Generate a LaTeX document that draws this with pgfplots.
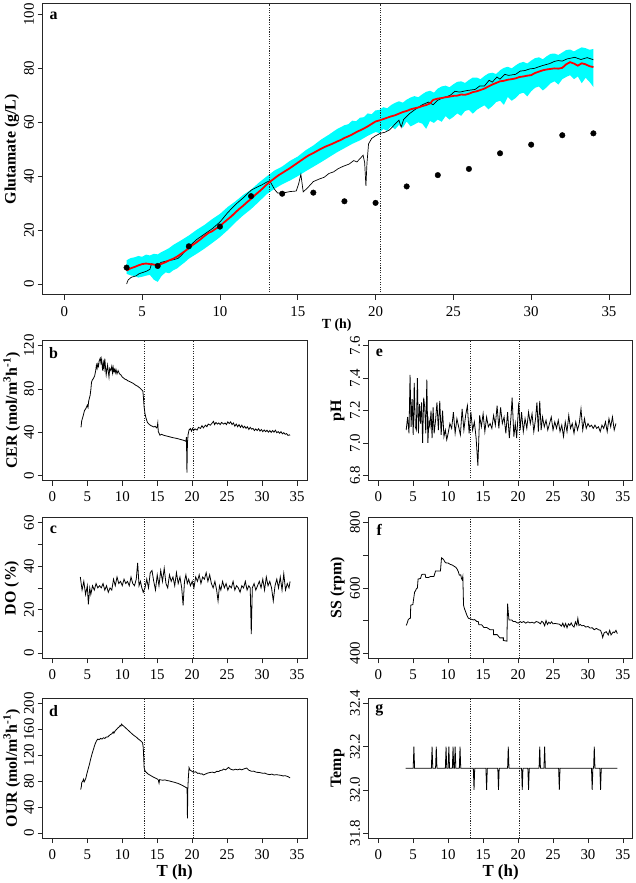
\documentclass[border=0pt]{standalone}
\usepackage{fontspec}
\setmainfont{Liberation Serif}
\usepackage{pgfplots}
\pgfplotsset{compat=1.18}
\usepgfplotslibrary{fillbetween}
\definecolor{rcyan}{RGB}{0,255,255}
\definecolor{rred}{RGB}{255,0,0}
\pgfplotsset{
  rstyle/.style={
    scale only axis,
    axis line style={line width=0.7pt, black!85},
    tick style={line width=0.6pt, black!85},
    tick align=outside,
    major tick length=5bp,
    xtick pos=left, ytick pos=left,
    xmin=-1.4, xmax=36.4, xtick={0,5,...,35},
    /pgf/number format/assume math mode=true,
    tick label style={font=\fontsize{15bp}{15bp}\selectfont},
    yticklabel style={rotate=90, anchor=south},
    xticklabel style={yshift=-3bp},
    label style={font=\bfseries\fontsize{16bp}{16bp}\selectfont},
    xlabel style={at={(axis description cs:0.5,0)}, yshift=-32bp, anchor=center},
    clip=true,
  },
  small/.style={rstyle, width=266bp, height=141bp,
    ylabel style={at={(axis description cs:-0.1165,0.5)}, anchor=center}},
  vline/.style={black!85, line width=0.6pt, dash pattern=on 1.1bp off 1.3bp, forget plot},
  dline/.style={black, line width=0.8bp},
}
\newcommand{\plab}[1]{\node[font=\bfseries\fontsize{16bp}{16bp}\selectfont] at (axis description cs:0,1) [xshift=11bp, yshift=-12.5bp] {#1};}
\begin{document}
\begin{tikzpicture}
\path (0,0) rectangle (638bp,-883bp);
% ---------------- panel a
\begin{axis}[rstyle, at={(41bp,-2bp)}, anchor=north west, width=592bp, height=293bp,
  ymin=-4, ymax=104, ytick={0,20,...,100},
  xlabel={T (h)}, ylabel={Glutamate (g/L)},
  xlabel style={font=\bfseries\fontsize{14bp}{14bp}\selectfont, yshift=1bp},
  ylabel style={at={(axis description cs:-0.0524,0.5)}, anchor=center}]
\addplot[draw=none, name path=up] coordinates {(4.0,8.8) (4.25,9.6) (4.5,9.9) (4.75,10.4) (5.0,10.1) (5.25,10.9) (5.5,10.6) (5.75,11.2) (6.0,11.0) (6.25,11.9) (6.5,12.6) (6.75,13.4) (7.0,14.5) (7.5,16.2) (8.0,18.0) (8.5,20.1) (9.0,21.9) (9.5,24.1) (10.0,26.0) (10.5,28.6) (11.0,30.7) (11.5,33.1) (12.0,35.0) (12.5,37.6) (13.0,39.9) (13.5,42.1) (14.0,43.6) (14.5,45.7) (15.0,47.3) (15.5,49.6) (16.0,51.4) (16.5,53.6) (17.0,55.4) (17.5,57.4) (18.0,58.9) (18.25,59.3) (18.5,60.6) (18.75,60.4) (19.0,61.7) (19.25,61.9) (19.5,63.3) (19.75,63.0) (20.0,64.4) (20.25,64.6) (20.5,65.6) (20.75,65.2) (21.0,66.4) (21.25,67.2) (21.5,67.8) (21.75,67.3) (22.0,68.4) (22.25,69.2) (22.5,69.7) (22.75,69.3) (23.0,70.4) (23.25,71.3) (23.5,71.7) (23.75,71.0) (24.0,72.5) (24.25,73.3) (24.5,73.6) (24.75,73.0) (25.0,74.1) (25.25,75.0) (25.5,75.2) (25.75,74.6) (26.0,75.7) (26.25,76.6) (26.5,76.6) (26.75,76.0) (27.0,77.2) (27.25,78.1) (27.5,78.4) (27.75,77.9) (28.0,79.3) (28.25,80.2) (28.5,80.6) (28.75,80.0) (29.0,81.1) (29.25,82.0) (29.5,82.4) (29.75,81.8) (30.0,82.9) (30.25,83.8) (30.5,84.1) (30.75,83.4) (31.0,84.5) (31.25,85.4) (31.5,85.5) (31.75,85.0) (32.0,85.9) (32.25,86.8) (32.5,87.0) (32.75,86.3) (33.0,87.1) (33.25,87.8) (33.5,87.5) (33.75,86.9) (34.0,87.2)};
\addplot[draw=none, name path=lo] coordinates {(4.0,3.8) (4.25,3.2) (4.5,3.0) (4.75,2.4) (5.0,2.7) (5.25,3.1) (5.5,3.4) (5.75,1.6) (6.0,0.8) (6.25,3.0) (6.5,4.3) (6.75,4.0) (7.0,5.1) (7.25,5.8) (7.5,7.0) (7.75,8.1) (8.0,9.4) (8.5,11.2) (9.0,13.1) (9.5,15.2) (10.0,17.4) (10.5,20.0) (11.0,22.9) (11.5,25.5) (12.0,27.8) (12.5,30.5) (13.0,33.3) (13.5,35.3) (14.0,37.0) (14.5,38.4) (15.0,40.0) (15.5,41.8) (16.0,43.5) (16.5,45.2) (17.0,47.0) (17.5,48.8) (18.0,50.4) (18.5,52.0) (19.0,53.3) (19.5,55.0) (20.0,56.4) (20.25,56.0) (20.5,57.5) (20.75,56.8) (21.0,58.6) (21.25,57.4) (21.5,59.0) (21.75,58.0) (22.0,60.3) (22.25,58.5) (22.5,59.2) (22.75,60.0) (23.0,59.5) (23.25,57.6) (23.5,60.5) (23.75,59.8) (24.0,61.0) (24.25,60.2) (24.5,62.3) (24.75,61.0) (25.0,62.0) (25.25,63.3) (25.5,62.4) (25.75,64.2) (26.0,64.6) (26.25,63.2) (26.5,64.6) (26.75,65.5) (27.0,66.3) (27.25,64.8) (27.5,66.0) (27.75,67.5) (28.0,68.0) (28.25,66.5) (28.5,69.4) (28.75,68.0) (29.0,69.0) (29.25,70.5) (29.5,71.0) (29.75,69.6) (30.0,71.5) (30.25,72.8) (30.5,73.3) (30.75,71.8) (31.0,73.0) (31.25,74.5) (31.5,75.2) (31.75,74.0) (32.0,76.0) (32.25,76.8) (32.5,77.5) (32.75,76.0) (33.0,77.0) (33.25,74.5) (33.5,76.5) (33.75,75.0) (34.0,73.1)};
\addplot[fill=rcyan, draw=none] fill between[of=up and lo];
\addplot[vline] coordinates {(13.2,-4) (13.2,104)};
\addplot[vline] coordinates {(20.3,-4) (20.3,104)};
\addplot[black, line width=0.7bp] coordinates {(4.0,0.0) (4.1,1.5) (4.3,2.5) (4.6,3.0) (4.8,3.8) (5.0,4.2) (5.3,4.8) (5.5,5.5) (5.6,7.5) (5.8,7.2) (6.0,6.8) (6.2,8.0) (6.4,8.3) (6.7,8.7) (7.0,9.0) (7.3,9.5) (7.5,10.5) (7.8,12.5) (8.0,13.8) (8.5,16.5) (9.0,18.5) (9.5,20.5) (10.0,23.0) (10.5,26.5) (11.0,29.5) (11.5,32.0) (12.0,34.8) (12.4,36.0) (12.7,36.8) (13.0,37.8) (13.2,38.3) (13.5,35.2) (13.7,33.8) (14.0,33.7) (14.5,34.3) (14.9,34.5) (15.05,37.0) (15.2,40.7) (15.35,34.2) (15.6,35.5) (16.0,38.0) (16.4,39.0) (16.7,39.6) (17.0,41.0) (17.3,41.6) (17.6,42.8) (17.93,43.7) (18.3,44.5) (18.6,45.8) (18.8,45.3) (19.0,46.5) (19.2,47.8) (19.3,45.0) (19.38,36.4) (19.45,45.0) (19.55,52.0) (19.75,54.0) (20.0,55.0) (20.3,55.9) (20.6,56.3) (20.9,57.2) (21.2,59.0) (21.5,60.8) (21.65,58.2) (21.8,61.0) (22.2,63.3) (22.6,65.0) (23.0,66.5) (23.4,67.5) (23.7,66.5) (24.0,68.2) (24.3,69.0) (24.8,70.0) (25.1,71.5) (25.4,71.2) (25.9,71.8) (26.4,72.2) (26.7,73.5) (27.0,73.5) (27.3,75.6) (27.5,74.9) (27.8,76.8) (28.0,76.0) (28.3,77.8) (28.55,77.4) (29.0,77.8) (29.3,79.0) (29.6,79.2) (29.9,79.8) (30.2,80.0) (30.7,81.0) (31.2,81.8) (31.5,82.6) (31.74,82.9) (32.0,82.7) (32.3,83.5) (32.8,84.1) (33.2,83.3) (33.6,84.0) (34.0,83.2)};
\addplot[rred, line width=1.8bp] coordinates {(4.0,5.0) (4.25,5.8) (4.5,6.3) (4.75,6.9) (5.0,7.4) (5.25,7.6) (5.5,7.4) (5.75,7.2) (6.0,7.1) (6.25,7.5) (6.5,8.1) (6.75,8.8) (7.0,9.4) (7.25,10.2) (7.5,11.2) (7.75,12.2) (8.0,13.3) (8.25,14.5) (8.5,15.5) (8.75,16.6) (9.0,17.8) (9.25,18.9) (9.5,19.6) (9.75,20.6) (10.0,21.5) (10.25,22.8) (10.5,24.0) (10.75,25.2) (11.0,26.6) (11.25,27.9) (11.5,29.1) (11.75,30.4) (12.0,31.6) (12.25,33.0) (12.5,34.2) (12.75,35.5) (13.0,36.9) (13.25,38.1) (13.5,39.2) (13.75,40.3) (14.0,41.2) (14.25,42.1) (14.5,43.0) (14.75,44.0) (15.0,45.0) (15.25,46.0) (15.5,47.0) (15.75,47.9) (16.0,48.6) (16.25,49.4) (16.5,50.2) (16.75,50.9) (17.0,51.5) (17.25,52.1) (17.5,52.8) (17.75,53.4) (18.0,54.2) (18.25,54.8) (18.5,55.5) (18.75,56.3) (19.0,57.0) (19.25,57.7) (19.5,58.5) (19.75,59.4) (20.0,60.3) (20.25,60.7) (20.5,61.2) (20.75,61.7) (21.0,62.2) (21.25,62.6) (21.5,63.2) (21.75,63.8) (22.0,64.2) (22.25,64.8) (22.5,65.2) (22.75,65.5) (23.0,66.0) (23.25,66.4) (23.5,67.0) (23.7,68.3) (24.0,68.8) (24.25,69.0) (24.5,69.3) (24.75,69.5) (25.0,69.8) (25.25,69.9) (25.5,70.3) (25.75,70.2) (26.0,70.6) (26.25,71.2) (26.5,71.5) (26.75,72.0) (27.0,72.5) (27.25,73.3) (27.5,74.0) (27.75,74.6) (28.0,75.2) (28.25,75.4) (28.5,75.8) (28.75,76.0) (29.0,76.3) (29.25,76.8) (29.5,77.0) (29.75,77.3) (30.0,77.5) (30.25,78.3) (30.5,78.8) (30.75,79.3) (31.0,79.6) (31.25,79.8) (31.5,80.0) (31.75,79.9) (32.0,80.2) (32.25,81.5) (32.5,82.3) (32.75,81.8) (33.0,81.0) (33.25,81.9) (33.5,81.5) (33.75,80.8) (34.0,80.5)};
\addplot[only marks, mark=*, mark size=2.8bp, black] coordinates {(4.0,6.1) (6.0,6.7) (8.0,14.0) (10.0,21.3) (12.0,32.6) (14.0,33.5) (16.0,33.9) (18.0,30.7) (20.0,30.1) (22.0,36.2) (24.0,40.4) (26.0,42.7) (28.0,48.5) (30.0,51.7) (32.0,55.2) (34.0,55.9)};
\plab{a}
\end{axis}
% ---------------- panel b
\begin{axis}[small, at={(41bp,-341bp)}, anchor=north west,
  ymin=-4.8, ymax=124.8, ytick={0,40,80,120},
  ylabel={CER (mol/m\textsuperscript{3}h\textsuperscript{-1})}]
\addplot[vline] coordinates {(13.1,-4.8) (13.1,124.8)};
\addplot[vline] coordinates {(20.2,-4.8) (20.2,124.8)};
\addplot[dline] coordinates {(4.1,44.5) (4.2,50.5) (4.4,55) (4.6,60) (4.8,62) (5.0,65) (5.1,63) (5.2,69) (5.4,74) (5.5,79) (5.6,86) (5.7,88) (5.9,90) (6.05,92) (6.2,97) (6.3,102) (6.4,99) (6.5,103) (6.6,101) (6.7,106) (6.85,108.5) (6.95,104) (7.05,107.5) (7.15,100) (7.2,97) (7.3,104) (7.4,99) (7.5,108) (7.6,100) (7.7,93) (7.8,98) (7.9,102) (8.0,96) (8.1,91) (8.2,99) (8.35,97) (8.5,101) (8.6,95) (8.7,100) (8.8,96) (8.9,98) (9.0,95) (9.1,98) (9.25,94) (9.4,97) (9.6,94) (9.8,93) (10.0,91) (10.2,90) (10.4,89) (10.6,88.5) (10.8,87.5) (11.0,87) (11.3,86) (11.6,85) (11.9,83.5) (12.2,82.5) (12.5,81) (12.8,79) (12.95,78) (13.04,71) (13.13,63) (13.25,57) (13.4,53) (13.6,49) (13.8,47.5) (14.1,46) (14.3,45.5) (14.5,44.8) (14.7,45.5) (14.9,44) (15.0,45) (15.08,48.5) (15.15,40.5) (15.3,38.5) (15.4,37.2) (15.6,38) (15.8,37.5) (16.0,37) (16.3,36.5) (16.6,36) (16.9,35.5) (17.2,35) (17.5,34.6) (17.86,34.1) (18.2,33.5) (18.6,32.8) (18.9,32.2) (19.1,31.5) (19.18,35.5) (19.25,2.5) (19.32,30) (19.42,38) (19.55,42) (19.74,43.3) (19.9,41) (20.05,43.5) (20.2,41.5) (20.4,43) (20.7,42) (20.9,44.5) (21.2,43.5) (21.4,46) (21.6,44) (21.9,46.5) (22.1,45) (22.3,47.5) (22.6,46.5) (22.8,48) (23.05,50) (23.2,47) (23.4,49) (23.6,47.5) (23.8,48.5) (24.0,47) (24.2,49) (24.5,47.5) (24.7,48.5) (24.9,47) (25.1,49.5) (25.3,48) (25.5,49.5) (25.7,47) (25.9,48.5) (26.1,45.5) (26.3,47.5) (26.5,45) (26.7,47) (26.9,44.5) (27.1,46.5) (27.3,44) (27.5,45.5) (27.7,43.5) (27.9,45) (28.1,42.5) (28.3,44.5) (28.5,42.8) (28.7,43.5) (28.9,41.5) (29.1,43) (29.3,41.5) (29.5,43.2) (29.7,41) (29.9,42.5) (30.1,40.5) (30.3,42) (30.5,40.5) (30.7,41.8) (30.9,40) (31.1,41.5) (31.3,39.8) (31.5,41.5) (31.7,40) (31.9,41.8) (32.1,39.5) (32.3,40.5) (32.5,39) (32.7,40.5) (32.9,38.5) (33.1,39.5) (33.3,38) (33.5,38.7) (33.7,37) (33.9,37.5) (34.0,37)};
\plab{b}
\end{axis}
% ---------------- panel c
\begin{axis}[small, at={(41bp,-519bp)}, anchor=north west, height=142bp,
  ymin=-2.4, ymax=62.4, ytick={0,10,...,60}, yticklabels={0,,20,,40,,60},
  ylabel={DO (\%)}]
\addplot[vline] coordinates {(13.1,-2.4) (13.1,62.4)};
\addplot[vline] coordinates {(20.2,-2.4) (20.2,62.4)};
\addplot[dline] coordinates {(4.00,35) (4.25,29) (4.50,33) (4.75,27) (5.00,31) (5.15,22.5) (5.35,30) (5.50,27) (5.75,31) (6.00,29) (6.25,32) (6.50,30) (6.75,31) (7.00,30) (7.25,32) (7.50,29) (7.75,31) (8.00,28) (8.25,30) (8.50,29) (8.75,34) (9.00,31) (9.25,35) (9.50,32) (9.75,33) (10.00,31) (10.25,34) (10.50,32) (10.75,33) (11.00,31) (11.25,35) (11.50,32) (11.75,31) (12.00,34) (12.20,41.5) (12.40,31) (12.60,33) (12.80,30) (13.00,28) (13.25,30) (13.50,34) (13.75,30) (14.00,37) (14.25,38) (14.50,33) (14.75,29) (15.00,36) (15.25,31) (15.50,38) (15.75,33) (16.00,39) (16.25,32) (16.50,30) (16.75,36) (17.00,33) (17.25,35) (17.50,31) (17.75,37) (18.00,32) (18.25,35) (18.50,30) (18.70,22) (18.90,33) (19.10,36) (19.30,32) (19.50,34) (19.75,31) (20.00,33) (20.25,30) (20.50,35) (20.75,33) (21.00,36) (21.25,32) (21.50,35) (21.75,34) (22.00,37) (22.25,33) (22.50,36) (22.75,32) (23.00,30) (23.25,33) (23.50,29) (23.70,24) (23.90,31) (24.10,29) (24.35,33) (24.60,30) (24.85,32) (25.10,29) (25.35,31) (25.60,30) (25.85,33) (26.10,29) (26.35,31) (26.60,30) (26.85,28) (27.10,31) (27.35,30) (27.60,33) (27.85,29) (28.10,31) (28.30,30) (28.45,8.8) (28.60,30) (28.85,32) (29.10,29) (29.35,31) (29.60,33) (29.85,30) (30.10,34) (30.35,29) (30.60,35) (30.85,31) (31.10,33) (31.35,30) (31.60,24) (31.85,31) (32.10,34) (32.35,30) (32.60,35) (32.85,29) (33.10,36.5) (33.35,29) (33.60,32) (33.85,30) (34.00,33)};
\plab{c}
\end{axis}
% ---------------- panel d
\begin{axis}[small, at={(41bp,-701bp)}, anchor=north west,
  ymin=-8, ymax=208, ytick={0,40,...,200},
  xlabel={T (h)}, xlabel style={font=\bfseries\fontsize{17bp}{17bp}\selectfont, yshift=-2bp},
  ylabel={OUR (mol/m\textsuperscript{3}h\textsuperscript{-1})}]
\addplot[vline] coordinates {(13.1,-8) (13.1,208)};
\addplot[vline] coordinates {(20.2,-8) (20.2,208)};
\addplot[dline] coordinates {(4.05,67) (4.15,72) (4.2,78) (4.35,80) (4.45,83) (4.55,79) (4.65,81) (4.8,85) (4.95,92) (5.1,98) (5.3,106) (5.5,115) (5.7,123) (5.9,130) (6.1,137) (6.3,142) (6.5,145) (6.7,144) (6.9,146) (7.1,145) (7.3,147) (7.5,146) (7.7,148) (7.9,148) (8.1,150) (8.3,152) (8.5,153) (8.7,156) (8.8,154) (9.0,158) (9.2,160) (9.35,162) (9.5,163) (9.7,166) (9.8,165) (9.9,168) (10.06,166) (10.2,165) (10.35,163.5) (10.5,162) (10.7,160) (10.9,158) (11.2,155) (11.5,152) (11.8,149.5) (12.0,148) (12.3,145) (12.66,142) (12.9,139.5) (13.0,132) (13.06,118) (13.13,101) (13.25,96) (13.4,94) (13.7,91) (14.1,88.5) (14.5,86) (14.8,84.5) (15.0,83.5) (15.15,82) (15.26,77) (15.35,82.5) (15.5,82) (15.8,81.5) (16.1,82) (16.4,81) (16.7,80.5) (17.0,79.5) (17.4,78.5) (17.7,77.5) (18.0,76.5) (18.3,75) (18.6,73.5) (19.0,71) (19.27,69.4) (19.32,22.8) (19.38,69) (19.45,85) (19.55,101) (19.7,97) (19.84,96.2) (20.0,95) (20.2,93.7) (20.5,94.5) (20.8,92) (21.0,92.5) (21.2,91) (21.4,91.5) (21.6,89.6) (21.9,91) (22.2,92.5) (22.6,93.5) (22.9,94) (23.2,93) (23.5,95.2) (23.8,95) (24.0,96.5) (24.3,97) (24.5,98.7) (24.8,97.5) (25.0,99.5) (25.2,101.3) (25.5,98.5) (25.9,97.2) (26.2,98.5) (26.5,97.5) (26.8,98.7) (27.1,97.5) (27.4,99) (27.8,100.3) (28.1,97) (28.5,95.2) (28.8,95.5) (29.2,93.7) (29.6,93.5) (30.1,92.2) (30.4,92.5) (30.7,91) (31.1,90.1) (31.4,91) (31.7,89.5) (32.0,90.1) (32.4,89.5) (32.7,89) (33.0,88.1) (33.3,88.5) (33.7,87.1) (34.0,85.1)};
\plab{d}
\end{axis}
% ---------------- panel e
\begin{axis}[small, at={(369bp,-341bp)}, anchor=north west,
  ymin=6.768, ymax=7.632, ytick={6.8,7.0,7.2,7.4,7.6},
  yticklabel style={/pgf/number format/.cd, fixed, fixed zerofill, precision=1},
  ylabel={pH}]
\addplot[vline] coordinates {(13.1,6.768) (13.1,7.632)};
\addplot[vline] coordinates {(20.2,6.768) (20.2,7.632)};
\addplot[dline] coordinates {(4.0,7.08) (4.2,7.16) (4.4,7.06) (4.55,7.42) (4.7,7.10) (4.85,7.27) (5.0,7.05) (5.15,7.37) (5.3,7.10) (5.45,7.08) (5.6,7.40) (5.75,7.06) (5.9,7.24) (6.05,7.12) (6.2,7.25) (6.35,7.00) (6.5,7.28) (6.65,7.22) (6.8,7.06) (6.95,7.39) (7.1,7.00) (7.25,7.14) (7.4,7.10) (7.55,7.20) (7.7,7.03) (7.85,7.22) (8.0,7.06) (8.2,7.14) (8.4,7.25) (8.6,7.08) (8.8,7.26) (9.0,7.05) (9.2,7.20) (9.4,7.04) (9.6,7.08) (9.8,7.02) (10.0,7.06) (10.25,7.12) (10.5,7.09) (10.75,7.19) (11.0,7.06) (11.25,7.15) (11.5,7.10) (11.75,7.05) (12.0,7.21) (12.25,7.08) (12.5,7.17) (12.75,7.23) (13.0,7.06) (13.25,7.19) (13.5,7.08) (13.75,7.13) (14.0,7.03) (14.25,6.86) (14.5,7.17) (14.75,7.10) (15.0,7.18) (15.25,7.07) (15.5,7.16) (15.75,7.10) (16.0,7.12) (16.25,7.09) (16.5,7.17) (16.75,7.11) (17.0,7.23) (17.25,7.09) (17.5,7.22) (17.75,7.12) (18.0,7.16) (18.25,7.06) (18.5,7.19) (18.75,7.03) (19.0,7.17) (19.15,7.28) (19.4,7.04) (19.6,7.12) (19.8,7.03) (20.1,7.25) (20.3,7.08) (20.5,7.19) (20.75,7.07) (21.0,7.15) (21.25,7.09) (21.5,7.19) (21.75,7.12) (22.0,7.18) (22.25,7.07) (22.5,7.15) (22.7,7.25) (22.9,7.07) (23.1,7.26) (23.3,7.08) (23.5,7.16) (23.75,7.10) (24.0,7.14) (24.25,7.08) (24.5,7.12) (24.75,7.16) (25.0,7.08) (25.25,7.13) (25.5,7.09) (25.75,7.14) (26.0,7.07) (26.25,7.11) (26.5,7.04) (26.75,7.13) (27.0,7.07) (27.25,7.17) (27.5,7.09) (27.75,7.12) (28.0,7.06) (28.25,7.13) (28.5,7.08) (28.75,7.12) (29.0,7.21) (29.25,7.08) (29.5,7.15) (29.75,7.09) (30.0,7.12) (30.25,7.10) (30.5,7.11) (30.75,7.09) (31.0,7.11) (31.25,7.09) (31.5,7.10) (31.75,7.07) (32.0,7.11) (32.25,7.09) (32.5,7.13) (32.75,7.07) (33.0,7.15) (33.25,7.10) (33.5,7.16) (33.75,7.08) (34.0,7.12)};
\plab{e}
\end{axis}
% ---------------- panel f
\begin{axis}[small, at={(369bp,-519bp)}, anchor=north west, height=142bp,
  ymin=384, ymax=816, ytick={400,500,...,800}, yticklabels={400,,600,,800},
  ylabel={SS (rpm)}]
\addplot[vline] coordinates {(13.1,384) (13.1,816)};
\addplot[vline] coordinates {(20.2,384) (20.2,816)};
\addplot[dline] coordinates {(4.0,485) (4.1,490) (4.3,503) (4.5,507) (4.6,507) (4.65,547) (4.95,549) (5.2,587) (5.3,590) (5.45,597) (5.6,600) (5.7,627) (6.05,629) (6.2,640) (6.4,642) (6.7,642) (6.8,632) (7.2,632) (7.5,635) (7.96,635) (8.2,652) (8.77,652) (8.9,652) (9.05,692) (9.2,690) (9.4,685) (9.6,677) (10.0,676) (10.3,672) (10.6,670) (10.8,667) (11.1,663) (11.3,657) (11.45,650) (11.6,639) (11.8,640) (11.9,629) (12.0,625) (12.1,635) (12.2,547) (12.35,535) (12.5,527) (12.7,515) (12.9,507) (13.2,505) (13.6,502) (13.8,503) (14.1,497) (14.3,497) (14.4,487) (14.8,487) (15.1,479) (15.5,479) (16.0,472) (16.5,472) (16.5,457) (17.0,457) (17.4,447) (17.9,447) (17.9,439) (18.4,437) (18.5,552) (18.6,525) (18.7,502) (19.1,502) (19.3,497) (19.6,497) (19.8,494) (20.0,492) (20.3,497) (20.5,494) (20.8,497) (21.1,492) (21.4,496) (21.7,493) (22.0,495) (22.3,492) (22.6,497) (22.9,495) (23.2,490) (23.4,498) (23.6,494) (23.8,484) (24.0,500) (24.2,488) (24.4,495) (24.6,491) (24.8,496) (25.0,490) (25.3,491) (25.6,490) (25.9,489) (26.2,483) (26.4,492) (26.6,480) (26.8,491) (27.0,478) (27.2,490) (27.4,485) (27.6,493) (27.8,484) (28.0,480) (28.2,496) (28.4,486) (28.55,507) (28.7,485) (28.9,488) (29.1,484) (29.4,485) (29.7,480) (30.0,482) (30.3,477) (30.6,478) (30.9,472) (31.2,476) (31.5,472) (31.8,470) (32.0,458) (32.1,448) (32.3,462) (32.6,466) (32.9,456) (33.1,470) (33.3,456) (33.6,465) (33.8,463) (34.0,470) (34.2,460)};
\plab{f}
\end{axis}
% ---------------- panel g
\begin{axis}[small, at={(369bp,-701bp)}, anchor=north west,
  ymin=31.776, ymax=32.424, ytick={31.8,32.0,32.2,32.4},
  yticklabel style={/pgf/number format/.cd, fixed, fixed zerofill, precision=1},
  xlabel={T (h)}, xlabel style={font=\bfseries\fontsize{17bp}{17bp}\selectfont, yshift=-2bp},
  ylabel={Temp}]
\addplot[vline] coordinates {(13.1,31.776) (13.1,32.424)};
\addplot[vline] coordinates {(20.2,31.776) (20.2,32.424)};
\addplot[dline] coordinates {(3.93,32.1) (5.0,32.1) (5.1,32.2) (5.2,32.1) (7.6,32.1) (7.7,32.2) (7.8,32.1) (8.2,32.1) (8.3,32.2) (8.4,32.1) (9.6,32.1) (9.7,32.2) (9.8,32.1) (10.0,32.1) (10.1,32.2) (10.2,32.1) (10.6,32.1) (10.7,32.2) (10.8,32.1) (10.9,32.1) (11.0,32.2) (11.1,32.1) (11.6,32.1) (11.7,32.2) (11.8,32.1) (13.6,32.1) (13.7,32.0) (13.8,32.1) (15.4,32.1) (15.5,32.0) (15.6,32.1) (17.1,32.1) (17.2,32.0) (17.3,32.1) (18.5,32.1) (18.6,32.2) (18.7,32.1) (20.5,32.1) (20.6,32.0) (20.7,32.1) (21.4,32.1) (21.5,32.0) (21.6,32.1) (23.0,32.1) (23.1,32.2) (23.2,32.1) (23.7,32.1) (23.8,32.2) (23.9,32.1) (25.8,32.1) (25.9,32.0) (26.0,32.1) (30.5,32.1) (30.6,32.0) (30.7,32.1) (30.8,32.1) (30.9,32.2) (31.0,32.1) (31.7,32.1) (31.8,32.0) (31.9,32.1) (34.2,32.1)};
\plab{g}
\end{axis}
\end{tikzpicture}
\end{document}
